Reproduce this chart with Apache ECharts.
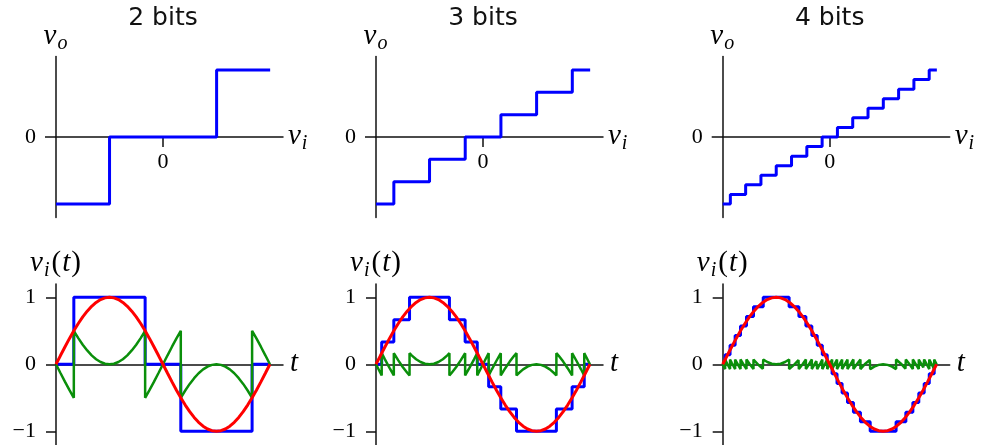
<!DOCTYPE html>
<html><head><meta charset="utf-8">
<script src="https://cdn.jsdelivr.net/npm/echarts@6/dist/echarts.min.js"></script>
<style>html,body{margin:0;padding:0;background:#fff}#c{width:982px;height:445px}</style>
</head><body><div id="c"></div>
<script>
// ---- panel titles ----
const titles = ['2 bits', '3 bits', '4 bits'];

// ---- transfer characteristic (top row): decision thresholds on v_i and output levels ----
const th2 = [-0.5, 0.5];
const lv2 = [-1, 0, 1];
const th3 = [-5/6, -1/2, -1/6, 1/6, 1/2, 5/6];
const lv3 = [-1, -2/3, -1/3, 0, 1/3, 2/3, 1];
const th4 = [-13/14, -11/14, -9/14, -7/14, -5/14, -3/14, -1/14, 1/14, 3/14, 5/14, 7/14, 9/14, 11/14, 13/14];
const lv4 = [-1, -6/7, -5/7, -4/7, -3/7, -2/7, -1/7, 0, 1/7, 2/7, 3/7, 4/7, 5/7, 6/7, 1];

// ---- input signal (bottom row): phase in degrees over one period, and v_i(t) ----
const phaseDeg = [0, 7.5, 15, 22.5, 30, 37.5, 45, 52.5, 60, 67.5, 75, 82.5, 90, 97.5, 105, 112.5, 120,
  127.5, 135, 142.5, 150, 157.5, 165, 172.5, 180, 187.5, 195, 202.5, 210, 217.5, 225, 232.5, 240,
  247.5, 255, 262.5, 270, 277.5, 285, 292.5, 300, 307.5, 315, 322.5, 330, 337.5, 345, 352.5, 360];
const vin = [0, 0.1305, 0.2588, 0.3827, 0.5, 0.6088, 0.7071, 0.7934, 0.8660, 0.9239, 0.9659, 0.9914, 1,
  0.9914, 0.9659, 0.9239, 0.8660, 0.7934, 0.7071, 0.6088, 0.5, 0.3827, 0.2588, 0.1305, 0,
  -0.1305, -0.2588, -0.3827, -0.5, -0.6088, -0.7071, -0.7934, -0.8660, -0.9239, -0.9659, -0.9914, -1,
  -0.9914, -0.9659, -0.9239, -0.8660, -0.7934, -0.7071, -0.6088, -0.5, -0.3827, -0.2588, -0.1305, 0];

// ---- quantized output: switching instants (degrees) and the level held after each ----
const cr2 = [30, 150, 210, 330];
const ql2 = [0, 1, 0, -1, 0];
const cr3 = [9.594, 30, 56.443, 123.557, 150, 170.406, 189.594, 210, 236.443, 303.557, 330, 350.406];
const ql3 = [0, 1/3, 2/3, 1, 2/3, 1/3, 0, -1/3, -2/3, -1, -2/3, -1/3, 0];
const cr4 = [4.096, 12.374, 20.925, 30, 40.005, 51.786, 68.214, 111.786, 128.214, 139.995, 150, 159.075,
  167.626, 175.904, 184.096, 192.374, 200.925, 210, 220.005, 231.786, 248.214, 291.786, 308.214,
  319.995, 330, 339.075, 347.626, 355.904];
const ql4 = [0, 1/7, 2/7, 3/7, 4/7, 5/7, 6/7, 1, 6/7, 5/7, 4/7, 3/7, 2/7, 1/7, 0,
  -1/7, -2/7, -3/7, -4/7, -5/7, -6/7, -1, -6/7, -5/7, -4/7, -3/7, -2/7, -1/7, 0];

const yTicks = [-1, 0, 1];
const yTickLabels = ['\u22121', '0', '1'];

// ---- build tables ----
function transfer(th, lv) {
  const pts = [[-1, lv[0]]];
  th.forEach((x, i) => { pts.push([x, lv[i]]); pts.push([x, lv[i + 1]]); });
  pts.push([1, lv[lv.length - 1]]);
  return pts;
}
function quantized(cr, lv) {
  const pts = [[0, lv[0]]];
  cr.forEach((c, i) => { pts.push([c, lv[i]]); pts.push([c, lv[i + 1]]); });
  pts.push([360, lv[lv.length - 1]]);
  return pts;
}
function errorPts(cr, lv) {
  const bounds = [0].concat(cr, [360]);
  const vb = [0].concat(cr.map((c, i) => (lv[i] + lv[i + 1]) / 2), [0]);
  const pts = [];
  for (let k = 0; k < bounds.length - 1; k++) {
    const a = bounds[k], b = bounds[k + 1], L = lv[k];
    pts.push([a, L - vb[k]]);
    phaseDeg.forEach((p, i) => { if (p > a && p < b) pts.push([p, L - vin[i]]); });
    pts.push([b, L - vb[k + 1]]);
  }
  return pts;
}

const TH = [th2, th3, th4], LV = [lv2, lv3, lv4];
const CR = [cr2, cr3, cr4], QL = [ql2, ql3, ql4];

const colLeft = [56, 376, 722.7];
const plotW = 227;
const rowTop = [56.6, 283.9];
const plotH = 160.8;
const AX = '#111';
const serif = 'Liberation Serif';
const rich = {
  v: { fontFamily: serif, fontStyle: 'italic', fontSize: 29, color: '#000', verticalAlign: 'top', lineHeight: 30 },
  p: { fontFamily: serif, fontSize: 29, color: '#000', verticalAlign: 'top', lineHeight: 30, padding: [0, 1, 0, 1] },
  s: { fontFamily: serif, fontStyle: 'italic', fontSize: 20, color: '#000', verticalAlign: 'top', padding: [12, 1, 0, 1], lineHeight: 20 }
};

const grid = [], xAxis = [], yAxis = [], series = [], graphic = [];
for (let c = 0; c < 3; c++) {
  grid.push({ left: colLeft[c], top: rowTop[0], width: plotW, height: plotH });
  grid.push({ left: colLeft[c], top: rowTop[1], width: plotW, height: plotH });
}
for (let c = 0; c < 3; c++) {
  const gTop = 2 * c, gBot = 2 * c + 1;
  xAxis.push({
    gridIndex: gTop, type: 'value', min: -1, max: 1.12,
    axisLine: { onZero: false, lineStyle: { color: AX, width: 1.5 } },
    offset: -plotH / 2,
    axisTick: { customValues: [0], length: 10, lineStyle: { color: AX, width: 1.5 } },
    axisLabel: { customValues: [0], margin: 14, fontFamily: serif, fontSize: 22, color: '#000' },
    splitLine: { show: false },
    name: '{v|v}{s|i}', nameLocation: 'end', nameGap: 5,
    nameTextStyle: { rich: rich, verticalAlign: 'middle' }
  });
  yAxis.push({
    gridIndex: gTop, type: 'value', min: -1.2, max: 1.2,
    axisLine: { onZero: false, lineStyle: { color: AX, width: 1.5 } },
    axisTick: { customValues: [0], length: 11, lineStyle: { color: AX, width: 1.5 } },
    axisLabel: { customValues: [0], margin: 20, fontFamily: serif, fontSize: 22, color: '#000' },
    splitLine: { show: false },
    name: '{v|v}{s|o}', nameLocation: 'end', nameGap: 5,
    nameTextStyle: { rich: rich }
  });
  xAxis.push({
    gridIndex: gBot, type: 'value', min: 0, max: 382,
    axisLine: { onZero: true, lineStyle: { color: AX, width: 1.5 } },
    axisTick: { show: false }, axisLabel: { show: false },
    splitLine: { show: false },
    name: '{v|t}', nameLocation: 'end', nameGap: 7,
    nameTextStyle: { rich: rich, verticalAlign: 'middle' }
  });
  yAxis.push({
    gridIndex: gBot, type: 'value', min: -1.2, max: 1.2,
    axisLine: { onZero: false, lineStyle: { color: AX, width: 1.5 } },
    axisTick: { customValues: yTicks, length: 10, lineStyle: { color: AX, width: 1.5 } },
    axisLabel: { customValues: yTicks, margin: 20, fontFamily: serif, fontSize: 22, color: '#000',
      formatter: v => yTickLabels[yTicks.indexOf(Math.round(v))] },
    splitLine: { show: false },
    name: '{v|v}{s|i}{p|(}{v|t}{p|)}', nameLocation: 'end', nameGap: 5,
    nameTextStyle: { rich: rich }
  });

  series.push({
    type: 'line', xAxisIndex: gTop, yAxisIndex: gTop, data: transfer(TH[c], LV[c]),
    showSymbol: false, symbol: 'none', lineStyle: { color: '#0000ff', width: 3 }, z: 3, silent: true, animation: false
  });
  series.push({
    type: 'line', xAxisIndex: gBot, yAxisIndex: gBot, data: quantized(CR[c], QL[c]),
    showSymbol: false, symbol: 'none', lineStyle: { color: '#0000ff', width: 3 }, z: 3, silent: true, animation: false
  });
  series.push({
    type: 'line', xAxisIndex: gBot, yAxisIndex: gBot, data: errorPts(CR[c], QL[c]),
    showSymbol: false, symbol: 'none', lineStyle: { color: '#0a8f0a', width: 2.5 }, z: 4, silent: true, animation: false
  });
  series.push({
    type: 'line', xAxisIndex: gBot, yAxisIndex: gBot, data: phaseDeg.map((p, i) => [p, vin[i]]),
    showSymbol: false, symbol: 'none', lineStyle: { color: '#ff0000', width: 3 }, z: 5, silent: true, animation: false
  });

  graphic.push({
    type: 'text', x: colLeft[c] + 107, y: 18,
    style: { text: titles[c], fontFamily: 'DejaVu Sans', fontSize: 25, fill: '#111', textAlign: 'center', textVerticalAlign: 'middle' }
  });
}

const chart = echarts.init(document.getElementById('c'), null, { renderer: 'canvas' });
chart.setOption({ animation: false, grid, xAxis, yAxis, series, graphic });
</script></body></html>
